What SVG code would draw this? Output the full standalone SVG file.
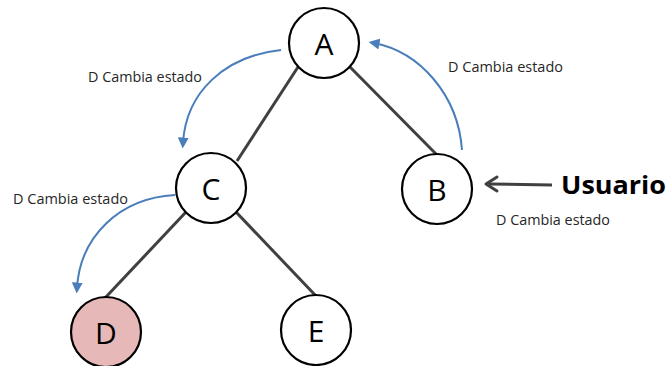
<svg xmlns="http://www.w3.org/2000/svg" width="670" height="366" viewBox="0 0 670 366">
  <style>
    .node { fill: #ffffff; stroke: #000000; stroke-width: 2.2; }
    .node-d { fill: #e6b9b8; }
    .edge { stroke: #404040; stroke-width: 3; fill: none; }
    .flow { stroke: #4a7ebb; stroke-width: 2; fill: none; marker-end: url(#blueHead); }
    .label { font-family: "Open Sans", "Liberation Sans", sans-serif; font-size: 14px; fill: #262626; }
    .letter { font-family: "Open Sans", "Liberation Sans", sans-serif; font-size: 30px; fill: #000000; text-anchor: middle; dominant-baseline: central; }
    .user { font-family: "Open Sans", "Liberation Sans", sans-serif; font-size: 25px; font-weight: bold; fill: #000000; }
  </style>
  <defs>
    <marker id="blueHead" viewBox="0 0 10 10" refX="5" refY="5" markerWidth="5.5" markerHeight="5.5" orient="auto" markerUnits="strokeWidth">
      <path d="M0,0 L10,5 L0,10 Z" fill="#4a7ebb"/>
    </marker>
  </defs>

  <!-- tree edges, state-change arrows and the user pointer -->
  <g id="connectors">
    <line class="edge" x1="298" y1="67" x2="237" y2="161"/>
    <line class="edge" x1="350" y1="67" x2="438" y2="156"/>
    <line class="edge" x1="186" y1="212" x2="105" y2="298"/>
    <line class="edge" x1="236" y1="212" x2="316" y2="296"/>
    <path class="flow" d="M281,50 C225,56 186,92 183,143"/>
    <path class="flow" d="M462,150 C458,95 420,52 374,43"/>
    <path class="flow" d="M175,195 C119,198 80,237 77,288"/>
    <line x1="552" y1="185" x2="489" y2="184" stroke="#404040" stroke-width="3"/>
    <path d="M497,177 L486,184 L497,191" fill="none" stroke="#404040" stroke-width="3" stroke-linecap="round" stroke-linejoin="round"/>
  </g>

  <g id="node-A">
    <circle class="node" cx="324" cy="43" r="35"/>
    <text class="letter" x="324" y="43">A</text>
  </g>
  <g id="node-B">
    <circle class="node" cx="437" cy="189" r="35"/>
    <text class="letter" x="437" y="189">B</text>
  </g>
  <g id="node-C">
    <circle class="node" cx="211" cy="188" r="35"/>
    <text class="letter" x="211" y="188">C</text>
  </g>
  <g id="node-D">
    <circle class="node node-d" cx="106" cy="332" r="35"/>
    <text class="letter" x="106" y="332">D</text>
  </g>
  <g id="node-E">
    <circle class="node" cx="316" cy="330" r="35"/>
    <text class="letter" x="316" y="330">E</text>
  </g>

  <g id="labels">
    <text class="label" x="88" y="82" textLength="114" lengthAdjust="spacingAndGlyphs">D Cambia estado</text>
    <text class="label" x="448" y="72" textLength="115" lengthAdjust="spacingAndGlyphs">D Cambia estado</text>
    <text class="label" x="13" y="204" textLength="115" lengthAdjust="spacingAndGlyphs">D Cambia estado</text>
    <text class="label" x="496" y="225" textLength="114" lengthAdjust="spacingAndGlyphs">D Cambia estado</text>
    <text class="user" x="561" y="194" textLength="105" lengthAdjust="spacingAndGlyphs">Usuario</text>
  </g>
</svg>
